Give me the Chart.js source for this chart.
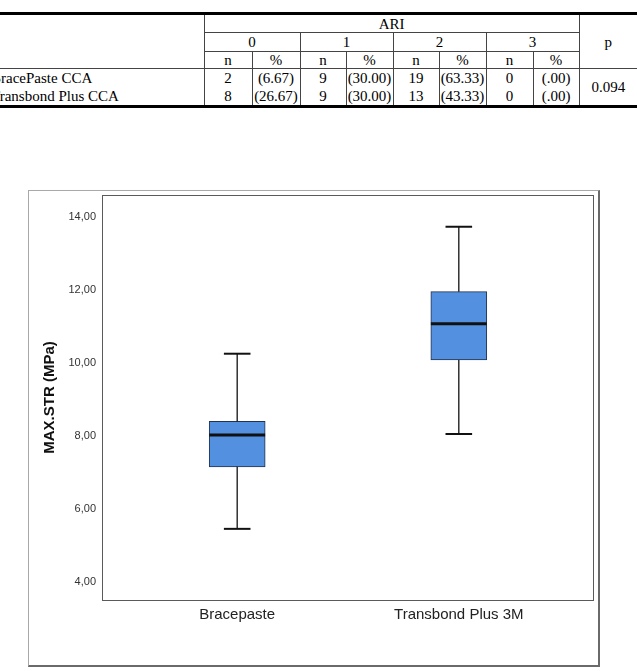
<!DOCTYPE html>
<html>
<head>
<meta charset="utf-8">
<script src="https://cdn.jsdelivr.net/npm/chart.js@4/dist/chart.umd.min.js"></script>
<style>
  body { margin: 0; width: 637px; height: 671px; overflow: hidden; background: #fff; position: relative; }
  #tbl { position: absolute; left: -12px; top: 12px; width: 649px; border-collapse: collapse; table-layout: fixed;
         font-family: "Liberation Serif", serif; font-size: 15px; color: #000;
         border-top: 3px solid #000; border-bottom: 3px solid #000; }
  #tbl td { padding: 0; text-align: center; vertical-align: middle; line-height: 16px;
            border-left: 1px solid #444; border-right: 1px solid #444; white-space: nowrap; overflow: hidden; }
  #tbl tr.h td { border-bottom: 1px solid #444; }
  #tbl td.first { border-left: none; text-align: left; padding-left: 3px; }
  #tbl td.last { border-right: none; }
  #frame { position: absolute; left: 28px; top: 190px; width: 569px; height: 474px;
           border-left: 1px solid #a8a8a8; border-top: 1px solid #a8a8a8;
           border-right: 2px solid #6a6a6a; border-bottom: 2px solid #6a6a6a; }
  #chart1 { display: block; }
</style>
</head>
<body>

<table id="tbl">
  <colgroup>
    <col style="width:216px"><col style="width:48px"><col style="width:48px"><col style="width:46px">
    <col style="width:47px"><col style="width:46px"><col style="width:47px"><col style="width:47px">
    <col style="width:46px"><col style="width:58px">
  </colgroup>
  <tr class="h" style="height:19px">
    <td rowspan="3" class="first"></td><td colspan="8">ARI</td><td rowspan="3" class="last">p</td>
  </tr>
  <tr class="h" style="height:19px">
    <td colspan="2">0</td><td colspan="2">1</td><td colspan="2">2</td><td colspan="2">3</td>
  </tr>
  <tr class="h" style="height:17px">
    <td>n</td><td>%</td><td>n</td><td>%</td><td>n</td><td>%</td><td>n</td><td>%</td>
  </tr>
  <tr style="height:19px">
    <td class="first">BracePaste CCA</td><td>2</td><td>(6.67)</td><td>9</td><td>(30.00)</td>
    <td>19</td><td>(63.33)</td><td>0</td><td>(.00)</td><td rowspan="2" class="last">0.094</td>
  </tr>
  <tr style="height:19px">
    <td class="first">Transbond Plus CCA</td><td>8</td><td>(26.67)</td><td>9</td><td>(30.00)</td>
    <td>13</td><td>(43.33)</td><td>0</td><td>(.00)</td>
  </tr>
</table>

<div id="frame"><canvas id="chart1" width="569" height="474"></canvas></div>

<script>
var groups = ['Bracepaste', 'Transbond Plus 3M'];
var groupPos = [1, 2];
var mins = [5.45, 8.05];
var q1s = [7.15, 10.08];
var medians = [8.02, 11.07];
var q3s = [8.40, 11.95];
var maxs = [10.25, 13.73];
var yTicks = [4, 6, 8, 10, 12, 14];

var BOX_HALF = 0.126;
var CAP_HALF = 0.06;

function seg(points, width) {
  return {
    type: 'line',
    data: points,
    borderColor: '#111',
    borderWidth: width,
    pointRadius: 0,
    fill: false,
    tension: 0,
    order: 1
  };
}

function buildDatasets() {
  var ds = [];
  ds.push({
    type: 'bar',
    data: groupPos.map(function(x, i) { return {x: x, y: [q1s[i], q3s[i]]}; }),
    backgroundColor: '#5390e0',
    borderColor: '#22324f',
    borderWidth: 1,
    borderSkipped: false,
    barThickness: 56,
    order: 2
  });
  groupPos.forEach(function(x, i) {
    ds.push(seg([{x: x, y: q3s[i]}, {x: x, y: maxs[i]}], 1.3));
    ds.push(seg([{x: x, y: mins[i]}, {x: x, y: q1s[i]}], 1.3));
    ds.push(seg([{x: x - CAP_HALF, y: maxs[i]}, {x: x + CAP_HALF, y: maxs[i]}], 2));
    ds.push(seg([{x: x - CAP_HALF, y: mins[i]}, {x: x + CAP_HALF, y: mins[i]}], 2));
    ds.push(seg([{x: x - BOX_HALF, y: medians[i]}, {x: x + BOX_HALF, y: medians[i]}], 3));
  });
  return ds;
}

// outline round the plot area
var plotFrame = {
  id: 'plotFrame',
  afterDraw: function(chart) {
    var a = chart.chartArea, ctx = chart.ctx;
    ctx.save();
    ctx.strokeStyle = '#5a5a5a';
    ctx.lineWidth = 1;
    ctx.strokeRect(Math.round(a.left) + 0.5, Math.round(a.top) + 0.5,
                   Math.round(a.right - a.left) - 1, Math.round(a.bottom - a.top));
    ctx.restore();
  }
};

function init() {
  var ctx = document.getElementById('chart1').getContext('2d');
  var myChart = new Chart(ctx, {
    type: 'bar',
    data: { datasets: buildDatasets() },
    plugins: [plotFrame],
    options: {
      responsive: false,
      animation: false,
      layout: { padding: {top: 4, right: 4, bottom: 0, left: 0} },
      plugins: { legend: {display: false}, tooltip: {enabled: false} },
      scales: {
        x: {
          type: 'linear',
          min: 0.39,
          max: 2.61,
          offset: false,
          grid: {display: false, offset: false, drawTicks: false},
          border: {display: false},
          afterBuildTicks: function(axis) {
            axis.ticks = groupPos.map(function(v) { return {value: v}; });
          },
          afterFit: function(axis) {
            axis.height = 65;
            axis.paddingLeft = 0;
            axis.paddingRight = 0;
          },
          ticks: {
            padding: 6,
            maxRotation: 0,
            color: '#222',
            font: {family: '"Liberation Sans", Arial, sans-serif', size: 15},
            callback: function(v) { return groups[groupPos.indexOf(v)]; }
          }
        },
        y: {
          min: 3.5,
          max: 14.6,
          beginAtZero: false,
          grid: {display: false, drawTicks: false},
          border: {display: false},
          afterBuildTicks: function(axis) {
            axis.ticks = yTicks.map(function(v) { return {value: v}; });
          },
          afterFit: function(axis) {
            axis.width = 73;
            axis.paddingTop = 0;
            axis.paddingBottom = 0;
          },
          ticks: {
            padding: 6,
            color: '#333',
            font: {family: '"Liberation Sans", Arial, sans-serif', size: 11},
            callback: function(v) { return v.toFixed(2).replace('.', ','); }
          },
          title: {
            display: true,
            text: 'MAX.STR (MPa)',
            color: '#111',
            padding: {top: 12, bottom: 0},
            font: {family: '"Liberation Sans", Arial, sans-serif', size: 15, weight: 'bold'}
          }
        }
      }
    }
  });
}

init();
</script>
</body>
</html>
